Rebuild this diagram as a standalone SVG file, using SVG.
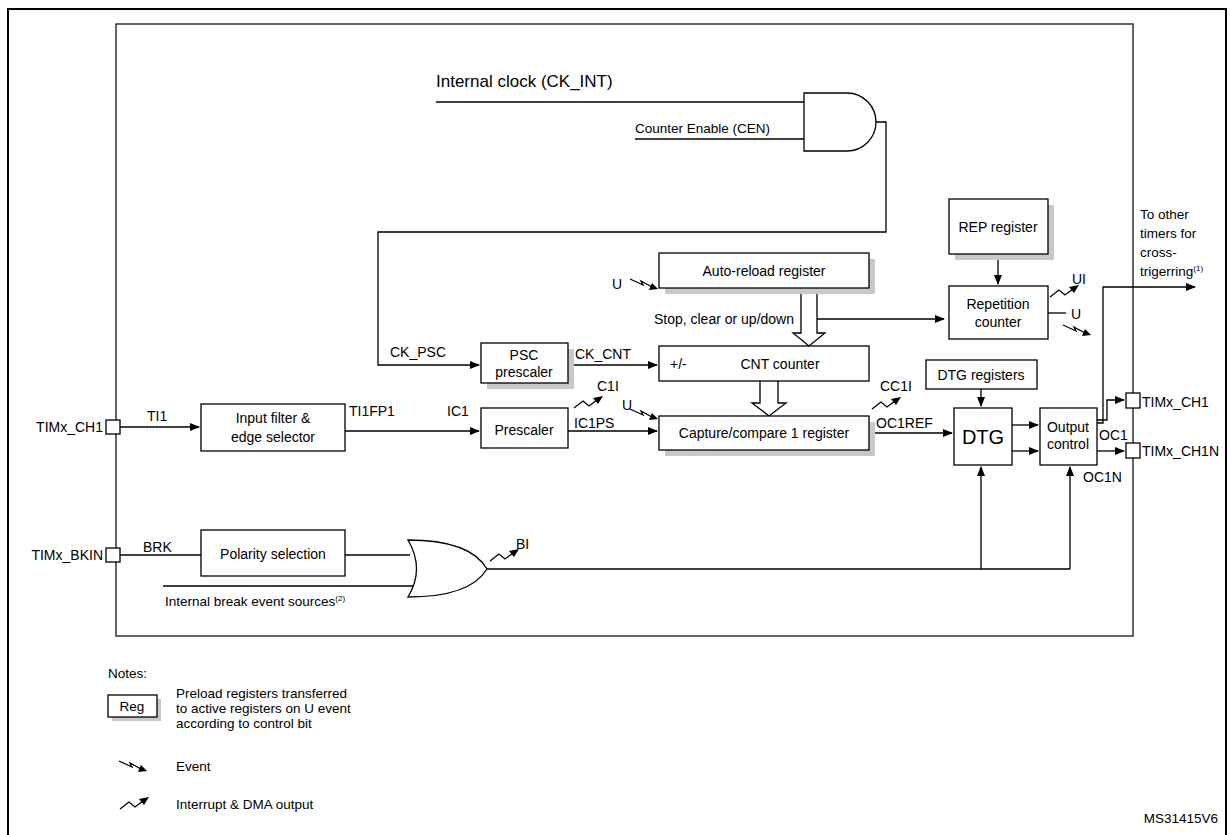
<svg xmlns="http://www.w3.org/2000/svg" width="1230" height="835" viewBox="0 0 1230 835">
<defs>
<style>
text{font-family:"Liberation Sans",Arial,sans-serif;font-size:14px;fill:#000}
.s{font-size:13.5px}
.c{text-anchor:middle}
.e{text-anchor:end}
.b{fill:#fff;stroke:#000;stroke-width:1.3}
.sh{fill:#c8c8c8}
.l{fill:none;stroke:#000;stroke-width:1.3}
</style>
<marker id="a" markerWidth="10" markerHeight="8" refX="9" refY="4" orient="auto" markerUnits="userSpaceOnUse"><path d="M0,0 L10,4 L0,8z" fill="#000"/></marker>
<g id="ev"><path d="M0,0 L13,6 L11,2 L22,8" class="l" stroke-width="1.2"/><path d="M28,10 L19,11 L22,4z" fill="#000"/></g>
<g id="it"><path d="M0,8 L9,1 L15,6 L23,0" class="l" stroke-width="1.2"/><path d="M29,-4 L24,4 L19,-2z" fill="#000"/></g>
</defs>
<rect width="1230" height="835" fill="#fff"/>
<rect x="8" y="9" width="1218" height="830" fill="none" stroke="#000" stroke-width="2"/>
<rect x="116" y="24" width="1017" height="612" fill="none" stroke="#333" stroke-width="1.5"/>

<g id="connectors">
<path d="M436,102 H804" class="l"/>
<path d="M635,139 H804" class="l"/>
<path d="M876,122 H886 V232 H378 V365 H479" class="l" marker-end="url(#a)"/>
<path d="M568,365 H657" class="l" marker-end="url(#a)"/>
<path d="M120,427 H199" class="l" marker-end="url(#a)"/>
<path d="M345,431 H479" class="l" marker-end="url(#a)"/>
<path d="M568,431 H657" class="l" marker-end="url(#a)"/>
<path d="M869,433 H952" class="l" marker-end="url(#a)"/>
<path d="M998,254 V284" class="l" marker-end="url(#a)"/>
<path d="M981,389 V406" class="l" marker-end="url(#a)"/>
<path d="M817,319 H944" class="l" marker-end="url(#a)"/>
<path d="M801,288 V333 H793 L809,346 L825,333 H817 V288" class="l" fill="#fff"/>
<path d="M760,381 V403 H752 L769,416 L786,403 H778 V381" class="l" fill="#fff"/>
<path d="M1012,425 H1038" class="l" marker-end="url(#a)"/>
<path d="M1012,451 H1038" class="l" marker-end="url(#a)"/>
<path d="M1097,451 H1124" class="l" marker-end="url(#a)"/>
<path d="M1097,423 H1103 V287 H1195" class="l" marker-end="url(#a)"/>
<path d="M1097,420 H1107 V400 H1124" class="l" marker-end="url(#a)"/>
<path d="M1048,313 H1066" class="l"/>
<path d="M120,555 H201 M345,555 H410 M163,586 H413" class="l"/>
<path d="M487,569 H1070" class="l"/>
<path d="M981,569 V467" class="l" marker-end="url(#a)"/>
<path d="M1070,569 V467" class="l" marker-end="url(#a)"/>
<use href="#ev" x="630" y="279"/>
<use href="#ev" x="630" y="409"/>
<use href="#ev" x="1063" y="325"/>
<use href="#it" x="574" y="400"/>
<use href="#it" x="872" y="401"/>
<use href="#it" x="1050" y="289"/>
<use href="#it" x="490" y="553"/>
</g>

<g id="and"><path d="M804,93 H847 A29,29 0 0 1 847,151 H804z" class="b"/></g>
<g id="or"><path d="M408,540 Q470,540 487,569 Q470,597 408,597 Q425,569 408,540z" class="b"/></g>
<text x="436" y="87" style="font-size:17px">Internal clock (CK_INT)</text>
<text x="635" y="133" class="s">Counter Enable (CEN)</text>

<g id="arr"><rect x="665" y="259" width="210" height="35" class="sh"/><rect x="659" y="253" width="210" height="35" class="b"/><text x="764" y="276" class="c">Auto-reload register</text></g>
<text x="612" y="289">U</text>
<text x="794" y="324" class="e">Stop, clear or up/down</text>
<g id="rep"><rect x="955" y="205" width="99" height="55" class="sh"/><rect x="949" y="199" width="99" height="55" class="b"/><text x="998" y="232" class="c">REP register</text></g>
<g id="repc"><rect x="949" y="286" width="99" height="53" class="b"/><text x="998" y="309" class="c">Repetition</text><text x="998" y="327" class="c">counter</text></g>
<text x="1072" y="284">UI</text>
<text x="1071" y="319">U</text>
<text x="1140" y="219" class="s">To other</text>
<text x="1140" y="238" class="s">timers for</text>
<text x="1140" y="257" class="s">cross-</text>
<text x="1140" y="276" class="s">trigerring<tspan dy="-5" style="font-size:8px">(1)</tspan></text>

<g id="psc"><rect x="487" y="349" width="87" height="40" class="sh"/><rect x="481" y="343" width="87" height="40" class="b"/><text x="524" y="360" class="c">PSC</text><text x="524" y="377" class="c">prescaler</text></g>
<text x="390" y="357">CK_PSC</text>
<text x="575" y="359">CK_CNT</text>
<g id="cnt"><rect x="659" y="346" width="210" height="35" class="b"/><text x="670" y="369">+/-</text><text x="780" y="369" class="c">CNT counter</text></g>
<g id="ccr"><rect x="665" y="422" width="210" height="34" class="sh"/><rect x="659" y="416" width="210" height="34" class="b"/><text x="764" y="438" class="c">Capture/compare 1 register</text></g>
<g id="presc"><rect x="481" y="408" width="87" height="40" class="b"/><text x="524" y="435" class="c">Prescaler</text></g>
<g id="filt"><rect x="201" y="404" width="144" height="47" class="b"/><text x="273" y="423" class="c">Input filter &amp;</text><text x="273" y="442" class="c">edge selector</text></g>
<g id="ch1"><rect x="106" y="420" width="14" height="14" class="b"/><text x="103" y="432" class="e">TIMx_CH1</text></g>
<text x="147" y="421">TI1</text>
<text x="349" y="416">TI1FP1</text>
<text x="447" y="416">IC1</text>
<text x="574" y="428">IC1PS</text>
<text x="597" y="391">C1I</text>
<text x="622" y="410">U</text>
<text x="880" y="391">CC1I</text>
<text x="876" y="428">OC1REF</text>
<g id="dtgr"><rect x="926" y="360" width="111" height="29" class="b"/><text x="981" y="380" class="c">DTG registers</text></g>
<g id="dtg"><rect x="954" y="408" width="58" height="57" class="b"/><text x="983" y="444" class="c" style="font-size:20px">DTG</text></g>
<g id="outc"><rect x="1040" y="408" width="57" height="57" class="b"/><text x="1068" y="432" class="c">Output</text><text x="1068" y="449" class="c">control</text></g>
<text x="1099" y="440">OC1</text>
<text x="1083" y="482">OC1N</text>
<g id="pch1"><rect x="1126" y="393" width="14" height="15" class="b"/><text x="1142" y="407">TIMx_CH1</text></g>
<g id="pch1n"><rect x="1126" y="443" width="14" height="15" class="b"/><text x="1142" y="456">TIMx_CH1N</text></g>
<g id="pol"><rect x="201" y="530" width="144" height="46" class="b"/><text x="273" y="559" class="c">Polarity selection</text></g>
<g id="bkin"><rect x="106" y="548" width="14" height="14" class="b"/><text x="103" y="560" class="e">TIMx_BKIN</text></g>
<text x="143" y="552">BRK</text>
<text x="165" y="606" class="s">Internal break event sources<tspan dy="-5" style="font-size:8px">(2)</tspan></text>
<text x="516" y="549">BI</text>

<g id="notes">
<text x="108" y="678" class="s">Notes:</text>
<rect x="112" y="699" width="49" height="22" class="sh"/><rect x="108" y="695" width="49" height="22" class="b"/><text x="132" y="711" class="c s">Reg</text>
<text x="176" y="698" class="s">Preload registers transferred</text>
<text x="176" y="713" class="s">to active registers on U event</text>
<text x="176" y="728" class="s">according to control bit</text>
<use href="#ev" x="119" y="761"/>
<text x="176" y="771" class="s">Event</text>
<use href="#it" x="120" y="801"/>
<text x="176" y="809" class="s">Interrupt &amp; DMA output</text>
</g>
<text x="1218" y="823" class="e s">MS31415V6</text>
</svg>
